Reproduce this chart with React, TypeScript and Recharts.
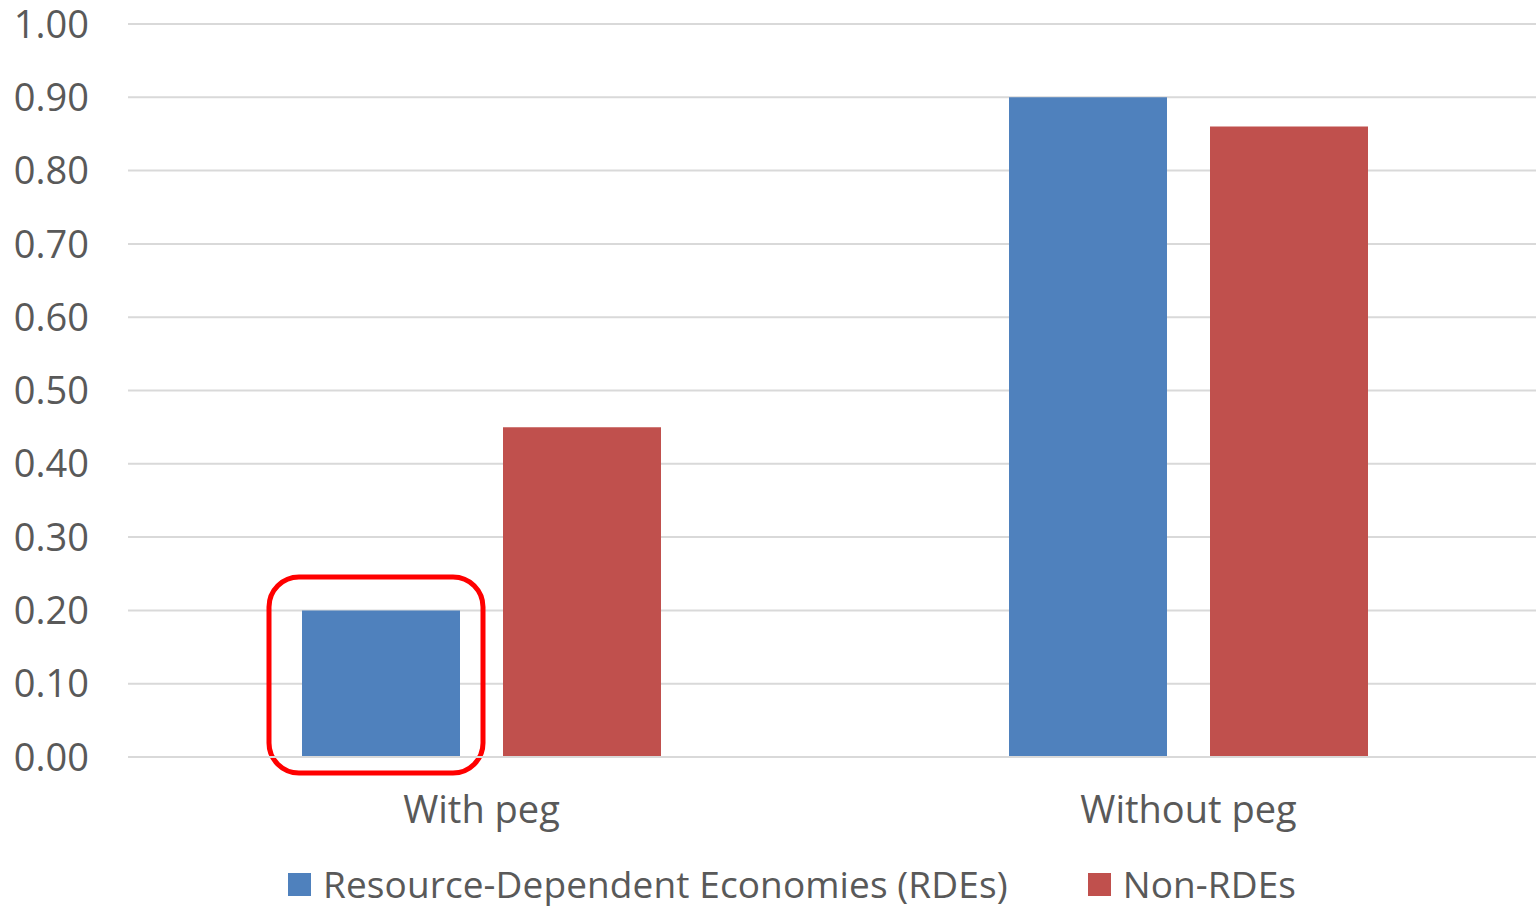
import { Bar, BarChart, CartesianGrid, Legend, Rectangle, XAxis, YAxis } from "recharts";

const categories = ["With peg", "Without peg"];
const rdeValues = [0.2, 0.9];
const nonRdeValues = [0.45, 0.86];
const seriesNames = ["Resource-Dependent Economies (RDEs)", "Non-RDEs"];
const seriesColors = ["#4F81BD", "#C0504D"];
const yTicks = [0, 0.1, 0.2, 0.3, 0.4, 0.5, 0.6, 0.7, 0.8, 0.9, 1.0];

// index of the RDE bar that gets the red callout box
const highlightIndex = 0;

const FONT = "'Open Sans', sans-serif";
const TEXT = "#595959";

const rows = categories.map((name, i) => ({
  name,
  rde: rdeValues[i],
  nonRde: nonRdeValues[i],
}));

function YTick({ x, y, payload }: any) {
  return (
    <text x={x} y={y} dy="0.36em" textAnchor="end" fill={TEXT} fontSize={38} fontFamily={FONT}>
      {Number(payload.value).toFixed(2)}
    </text>
  );
}

function XTick({ x, y, payload }: any) {
  return (
    <text x={x} y={y} dy="0.72em" textAnchor="middle" fill={TEXT} fontSize={38} fontFamily={FONT}>
      {payload.value}
    </text>
  );
}

function RdeBar(props: any) {
  const { x, y, width, height, index, fill } = props;
  return (
    <g>
      <Rectangle x={x} y={y} width={width} height={height} fill={fill} />
      {index === highlightIndex && (
        <rect
          x={x - 33}
          y={y - 33.5}
          width={width + 56}
          height={height + 49.5}
          rx={30}
          ry={30}
          fill="none"
          stroke="#FF0000"
          strokeWidth={5}
        />
      )}
    </g>
  );
}

function LegendContent() {
  return (
    <div style={{ display: "flex", alignItems: "center", height: 44, fontFamily: FONT, fontSize: 37, color: TEXT, lineHeight: "44px" }}>
      {seriesNames.map((name, i) => (
        <div key={name} style={{ display: "flex", alignItems: "center", marginRight: i === 0 ? 80 : 0 }}>
          <span style={{ width: 23, height: 23, background: seriesColors[i], marginRight: 12, display: "inline-block" }} />
          <span style={{ whiteSpace: "nowrap", letterSpacing: 0.1 }}>{name}</span>
        </div>
      ))}
    </div>
  );
}

export default function App() {
  return (
    <div style={{ position: "absolute", left: 0, top: 0, width: 1536, height: 906, overflow: "hidden", background: "#fff" }}>
      <BarChart
        width={1542}
        height={906}
        data={rows}
        margin={{ top: 24, right: 0, bottom: 0, left: 0 }}
        barSize={158}
        barGap={43}
      >
        <CartesianGrid horizontal vertical={false} stroke="#D9D9D9" strokeWidth={2} />
        <YAxis
          width={128}
          domain={[0, 1]}
          ticks={yTicks}
          interval={0}
          axisLine={false}
          tickLine={false}
          tickSize={0}
          tickMargin={39}
          tick={<YTick />}
        />
        <XAxis
          dataKey="name"
          height={105}
          axisLine={{ stroke: "#D9D9D9", strokeWidth: 2 }}
          tickLine={false}
          tickSize={0}
          tickMargin={39}
          tick={<XTick />}
        />
        <Legend
          verticalAlign="bottom"
          content={<LegendContent />}
          wrapperStyle={{ left: 288, top: 862, bottom: "auto", width: "auto" }}
        />
        <Bar dataKey="rde" name={seriesNames[0]} fill={seriesColors[0]} shape={<RdeBar />} isAnimationActive={false} />
        <Bar dataKey="nonRde" name={seriesNames[1]} fill={seriesColors[1]} isAnimationActive={false} />
      </BarChart>
    </div>
  );
}
